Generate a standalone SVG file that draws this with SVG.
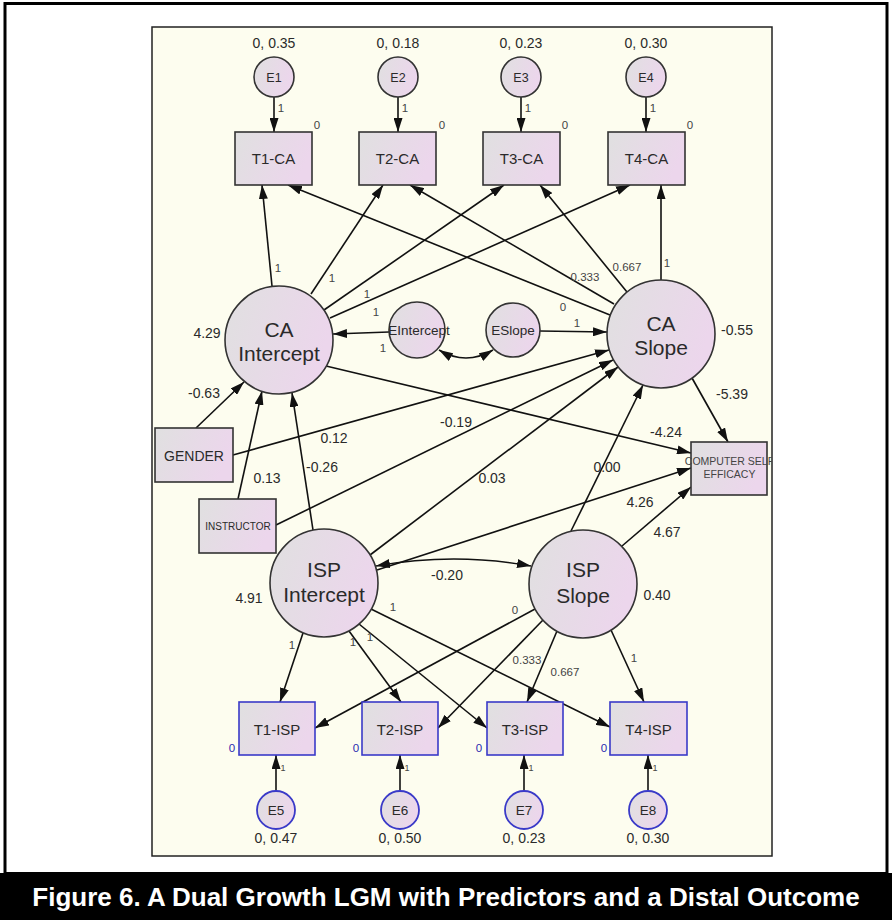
<svg xmlns="http://www.w3.org/2000/svg" width="892" height="920" viewBox="0 0 892 920">
<defs>
<linearGradient id="nf" x1="0" y1="0" x2="1" y2="0.3">
<stop offset="0" stop-color="#e0e0e0"/>
<stop offset="1" stop-color="#ecd6ec"/>
</linearGradient>
<marker id="ah" viewBox="0 0 14 9" refX="14" refY="4.5" markerWidth="14" markerHeight="9" orient="auto-start-reverse" markerUnits="userSpaceOnUse">
<path d="M0,0 L14,4.5 L0,9 z" fill="#111"/>
</marker>
<clipPath id="panelClip"><rect x="152" y="27" width="620" height="829"/></clipPath>
<style>
.pn{fill:#fdfdef;stroke:#222;stroke-width:1.5}
.bx{fill:url(#nf);stroke:#333;stroke-width:1.6}
.bxb{fill:url(#nf);stroke:#3a3ac8;stroke-width:1.6}
.ci{fill:url(#nf);stroke:#333;stroke-width:1.6}
.cib{fill:url(#nf);stroke:#3a3ac8;stroke-width:1.8}
.cn path{fill:none;stroke:#111;stroke-width:1.6}
.a{marker-end:url(#ah)}
.d{marker-start:url(#ah);marker-end:url(#ah)}
text{font-family:"Liberation Sans",Arial,sans-serif;fill:#2a2a2a}
.big{font-size:21px;text-anchor:middle}
.bt{font-size:15px;text-anchor:middle}
.et{font-size:12.5px;text-anchor:middle}
.et2{font-size:13.5px;text-anchor:middle}
.pl{font-size:14px;text-anchor:middle}
.sl{font-size:11.5px;fill:#444;text-anchor:middle}
.blue{fill:#2a2ab0}
.cap{font-size:26px;font-weight:bold;fill:#fff;text-anchor:middle}
</style>
</defs>
<rect x="0" y="0" width="892" height="920" fill="#fff"/>
<rect x="5" y="3.5" width="882" height="870" fill="none" stroke="#000" stroke-width="3"/>
<rect x="0" y="873" width="892" height="47" fill="#000"/>
<text class="cap" x="446" y="906">Figure 6. A Dual Growth LGM with Predictors and a Distal Outcome</text>
<rect class="pn" x="152" y="27" width="620" height="829"/>

<g class="cn" id="connectors">
<path class="a" d="M274,97 L274,132"/>
<path class="a" d="M398,97 L398,132"/>
<path class="a" d="M521,97 L521,132"/>
<path class="a" d="M646,97 L646,132"/>
<path class="a" d="M272,286 L262,185"/>
<path class="a" d="M311,294 L383,185"/>
<path class="a" d="M324,310 L504,185"/>
<path class="a" d="M330,318 L630,185"/>
<path class="a" d="M610,315 L288,185"/>
<path class="a" d="M614,304 L410,185"/>
<path class="a" d="M627,292 L540,185"/>
<path class="a" d="M661,280 L661,185"/>
<path class="a" d="M389,332 L333,334"/>
<path class="a" d="M540,331 L607,332"/>
<path class="d" d="M439,350 Q466,366 493,350"/>
<path class="a" d="M196,428 L244,382"/>
<path class="a" d="M233,455 L609,350"/>
<path class="a" d="M238,499 L262,391"/>
<path class="a" d="M276,525 L613,360"/>
<path class="a" d="M313,530 L292,393"/>
<path class="a" d="M370,555 L618,367"/>
<path class="a" d="M377,570 L691,468"/>
<path class="d" d="M376,566 Q454,552 531,566"/>
<path class="a" d="M571,531 L643,385"/>
<path class="a" d="M622,546 L691,487"/>
<path class="a" d="M326,366 L691,453"/>
<path class="a" d="M692,378 L728,442"/>
<path class="a" d="M303,633 L280,702"/>
<path class="a" d="M349,631 L401,702"/>
<path class="a" d="M359,624 L487,728"/>
<path class="a" d="M371,609 L610,727"/>
<path class="a" d="M535,609 L315,728"/>
<path class="a" d="M543,620 L438,728"/>
<path class="a" d="M557,631 L527,702"/>
<path class="a" d="M611,630 L644,702"/>
<path class="a" d="M276,791 L276,755"/>
<path class="a" d="M400,791 L400,755"/>
<path class="a" d="M524,791 L524,755"/>
<path class="a" d="M648,791 L648,755"/>
</g>

<g id="labels">
<text class="pl" x="274" y="48">0, 0.35</text>
<text class="pl" x="398" y="48">0, 0.18</text>
<text class="pl" x="521" y="48">0, 0.23</text>
<text class="pl" x="646" y="48">0, 0.30</text>
<text class="sl" x="281" y="112">1</text>
<text class="sl" x="405" y="112">1</text>
<text class="sl" x="528" y="112">1</text>
<text class="sl" x="653" y="112">1</text>
<text class="sl" x="317" y="129">0</text>
<text class="sl" x="442" y="129">0</text>
<text class="sl" x="565" y="129">0</text>
<text class="sl" x="690" y="129">0</text>
<text class="sl" x="278" y="272">1</text>
<text class="sl" x="332" y="282">1</text>
<text class="sl" x="367" y="298">1</text>
<text class="sl" x="376" y="316">1</text>
<text class="sl" x="383" y="352">1</text>
<text class="sl" x="563" y="311">0</text>
<text class="sl" x="585" y="281">0.333</text>
<text class="sl" x="627" y="271">0.667</text>
<text class="sl" x="667" y="267">1</text>
<text class="sl" x="577" y="327">1</text>
<text class="pl" x="207" y="338">4.29</text>
<text class="pl" x="737" y="335">-0.55</text>
<text class="pl" x="204" y="398">-0.63</text>
<text class="pl" x="334" y="443">0.12</text>
<text class="pl" x="267" y="483">0.13</text>
<text class="pl" x="322" y="472">-0.26</text>
<text class="pl" x="456" y="427">-0.19</text>
<text class="pl" x="492" y="483">0.03</text>
<text class="pl" x="607" y="472">0.00</text>
<text class="pl" x="666" y="437">-4.24</text>
<text class="pl" x="732" y="399">-5.39</text>
<text class="pl" x="640" y="507">4.26</text>
<text class="pl" x="667" y="537">4.67</text>
<text class="pl" x="447" y="580">-0.20</text>
<text class="pl" x="249" y="603">4.91</text>
<text class="pl" x="657" y="600">0.40</text>
<text class="sl" x="292" y="649">1</text>
<text class="sl" x="353" y="646">1</text>
<text class="sl" x="370" y="641">1</text>
<text class="sl" x="393" y="611">1</text>
<text class="sl" x="515" y="614">0</text>
<text class="sl" x="527" y="664">0.333</text>
<text class="sl" x="565" y="676">0.667</text>
<text class="sl" x="634" y="662">1</text>
<text class="sl blue" x="232" y="752">0</text>
<text class="sl blue" x="356" y="752">0</text>
<text class="sl blue" x="479" y="752">0</text>
<text class="sl blue" x="604" y="752">0</text>
<text class="sl" x="283" y="771" style="font-size:9px">1</text>
<text class="sl" x="407" y="771" style="font-size:9px">1</text>
<text class="sl" x="531" y="771" style="font-size:9px">1</text>
<text class="sl" x="655" y="771" style="font-size:9px">1</text>
<text class="pl" x="276" y="843">0, 0.47</text>
<text class="pl" x="400" y="843">0, 0.50</text>
<text class="pl" x="524" y="843">0, 0.23</text>
<text class="pl" x="648" y="843">0, 0.30</text>
</g>

<g id="E1"><circle class="ci" cx="274" cy="77" r="20"/><text class="et" x="274" y="81.5">E1</text></g>
<g id="E2"><circle class="ci" cx="398" cy="77" r="20"/><text class="et" x="398" y="81.5">E2</text></g>
<g id="E3"><circle class="ci" cx="521" cy="77" r="20"/><text class="et" x="521" y="81.5">E3</text></g>
<g id="E4"><circle class="ci" cx="646" cy="77" r="20"/><text class="et" x="646" y="81.5">E4</text></g>

<g id="T1-CA"><rect class="bx" x="235" y="132" width="77" height="53"/><text class="bt" x="273.5" y="164">T1-CA</text></g>
<g id="T2-CA"><rect class="bx" x="359" y="132" width="77" height="53"/><text class="bt" x="397.5" y="164">T2-CA</text></g>
<g id="T3-CA"><rect class="bx" x="483" y="132" width="77" height="53"/><text class="bt" x="521.5" y="164">T3-CA</text></g>
<g id="T4-CA"><rect class="bx" x="608" y="132" width="77" height="53"/><text class="bt" x="646.5" y="164">T4-CA</text></g>

<g id="CA-Intercept"><circle class="ci" cx="279" cy="340" r="54"/><text class="big" x="279" y="337">CA</text><text class="big" x="279" y="361">Intercept</text></g>
<g id="CA-Slope"><circle class="ci" cx="661" cy="334" r="54"/><text class="big" x="661" y="331">CA</text><text class="big" x="661" y="355">Slope</text></g>

<g id="EIntercept"><circle class="ci" cx="417" cy="330" r="28"/><text class="et" x="419" y="334.5" style="font-size:13.5px">EIntercept</text></g>
<g id="ESlope"><circle class="ci" cx="513" cy="330" r="27"/><text class="et" x="513" y="334.5" style="font-size:13.5px">ESlope</text></g>

<g id="GENDER"><rect class="bx" x="155" y="428" width="78" height="54"/><text class="pl" x="194" y="461">GENDER</text></g>
<g id="INSTRUCTOR"><rect class="bx" x="199" y="499" width="77" height="54"/><text x="238" y="529.5" style="font-size:10px;text-anchor:middle">INSTRUCTOR</text></g>

<g id="COMPUTER-SELF-EFFICACY"><rect class="bx" x="691" y="442" width="76" height="53"/>
<g clip-path="url(#panelClip)"><text x="729.5" y="465" style="font-size:10.5px;text-anchor:middle;fill:#444">COMPUTER SELF</text><text x="729.5" y="478" style="font-size:10.5px;text-anchor:middle;fill:#444">EFFICACY</text></g></g>

<g id="ISP-Intercept"><circle class="ci" cx="324" cy="583" r="54"/><text class="big" x="324" y="577">ISP</text><text class="big" x="324" y="602">Intercept</text></g>
<g id="ISP-Slope"><circle class="ci" cx="583" cy="584" r="54"/><text class="big" x="583" y="577">ISP</text><text class="big" x="583" y="603">Slope</text></g>

<g id="T1-ISP"><rect class="bxb" x="239" y="702" width="76" height="53"/><text class="bt" x="277" y="735">T1-ISP</text></g>
<g id="T2-ISP"><rect class="bxb" x="362" y="702" width="76" height="53"/><text class="bt" x="400" y="735">T2-ISP</text></g>
<g id="T3-ISP"><rect class="bxb" x="487" y="702" width="76" height="53"/><text class="bt" x="525" y="735">T3-ISP</text></g>
<g id="T4-ISP"><rect class="bxb" x="610" y="702" width="77" height="53"/><text class="bt" x="648.5" y="735">T4-ISP</text></g>

<g id="E5"><circle class="cib" cx="276" cy="810" r="19"/><text class="et2" x="276" y="815">E5</text></g>
<g id="E6"><circle class="cib" cx="400" cy="810" r="19"/><text class="et2" x="400" y="815">E6</text></g>
<g id="E7"><circle class="cib" cx="524" cy="810" r="19"/><text class="et2" x="524" y="815">E7</text></g>
<g id="E8"><circle class="cib" cx="648" cy="810" r="19"/><text class="et2" x="648" y="815">E8</text></g>
</svg>
